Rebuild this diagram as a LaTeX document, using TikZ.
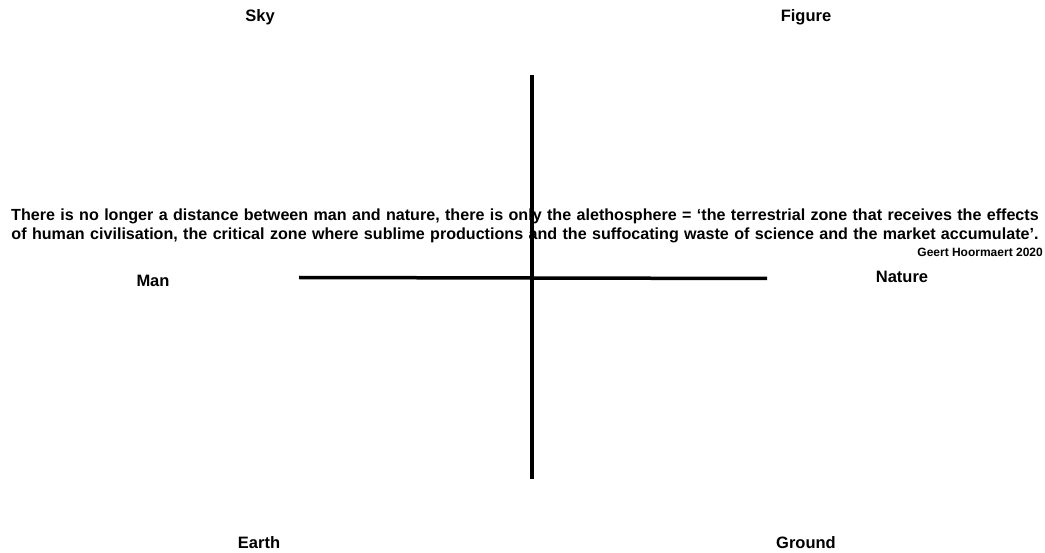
\documentclass[tikz,border=0pt]{standalone}
\usepackage{fontspec}
\setmainfont{Liberation Sans}
\usetikzlibrary{positioning}
\tikzset{
  lbl/.style={inner sep=0pt,font=\fontsize{16.5}{19}\selectfont\bfseries},
  axis/.style={line width=3.5pt,black},
}

\begin{document}
\begin{tikzpicture}[x=1pt,y=-1pt]
\useasboundingbox (0,0) rectangle (1045,553);
% axes
\coordinate (vtop) at (532,75);
\coordinate (vbot) at (532,479);
\coordinate (hl) at (299,277.5);
\coordinate (hr) at (767,278.5);
\draw[axis] (vtop) -- (vbot);
\draw[axis] (hl) -- (hr);
% corner labels
\node[lbl] (sky)    at (260,17)  {Sky};
\node[lbl] (figure) at (806,17)  {Figure};
\node[lbl] (man)    at (153,281) {Man};
\node[lbl] (nature) at (902,277) {Nature};
\node[lbl] (earth)  at (259,543) {Earth};
\node[lbl] (ground) at (806,543) {Ground};
% quote
\node[inner sep=0pt,text width=1044pt,align=center,font=\fontsize{16.1}{19}\selectfont\bfseries] (quote) at (525,226)
  {There is no longer a distance between man and nature, there is only the alethosphere = ‘the terrestrial zone that receives the effects\\
   of human civilisation, the critical zone where sublime productions and the suffocating waste of science and the market accumulate’.};
\node[inner sep=0pt,anchor=east,font=\fontsize{12}{14}\selectfont\bfseries] (sign) at (1043,252) {Geert Hoormaert 2020};
\end{tikzpicture}
\end{document}
